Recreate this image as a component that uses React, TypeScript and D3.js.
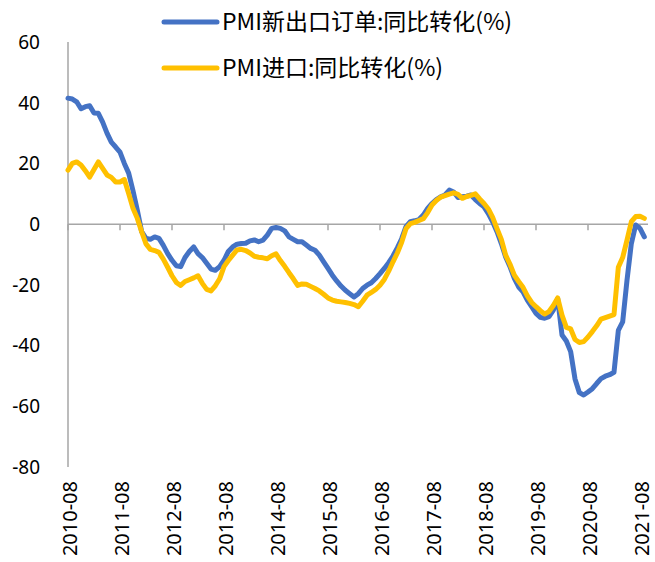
import React from "react";
import * as d3 from "d3";

const startYear = 2010;
const startMonth = 8;

const exportOrders: number[] = [
  41.5, 41.2, 40.3, 38, 38.7, 39, 36.6, 36.5, 33.6, 30, 27, 25.4, 23.7, 20, 16.8, 11, 4.6, -2.5,
  -4.7, -5, -4.2, -4.7, -7, -9.7, -11.9, -13.7, -14, -11, -9, -7.5, -9.7, -11, -12.9, -14.8, -15.2, -14,
  -11.9, -9, -7.5, -6.6, -6.4, -6.3, -5.5, -5.2, -5.8, -5.3, -3.6, -1.4, -1.1, -1.4, -2.2, -4.2, -5, -5.8,
  -5.8, -6.9, -8, -8.6, -10.2, -12.4, -14.6, -16.8, -18.7, -20.4, -21.8, -22.9, -24, -22.9, -21.2, -20.1, -19.3, -17.9,
  -16.3, -14.6, -12.7, -10.5, -7.8, -4.8, -0.8, 0.8, 1.1, 1.5, 3, 5.2, 6.8, 8.1, 9, 9.6, 11.2, 10.6,
  8.8, 9, 9.2, 9.6, 8.1, 6.8, 5.7, 3.5, 0.8, -2.5, -6.4, -10.8, -14, -17.9, -20.7, -22.3, -25, -27.2,
  -29.4, -30.7, -31, -30.5, -28.3, -24.5, -36.5, -38.5, -42, -51, -55.5, -56.3, -55.3, -54.2, -52.5, -50.9, -50.1, -49.6,
  -48.8, -35, -32.2, -18.5, -6.4, -0.3, -1.4, -4.2,
];

const imports: number[] = [
  17.8, 20, 20.5, 19.5, 17.6, 15.5, 18, 20.5, 18.4, 16.2, 15.4, 13.9, 13.9, 14.7, 10.1, 5.2, 1.9, -2.5,
  -6.5, -8.3, -8.7, -9.3, -11.5, -14.2, -17, -19.2, -20.2, -18.9, -18.3, -17.7, -17, -19.5, -21.5, -22, -20.3, -18,
  -14, -12, -10.2, -8.5, -8.3, -8.7, -9.5, -10.6, -10.9, -11.1, -11.4, -10.4, -9.8, -12, -13.9, -16, -18, -20.2,
  -19.7, -19.8, -20.5, -21.2, -22, -23.1, -24.3, -25, -25.4, -25.6, -25.8, -26.1, -26.5, -27.2, -25.4, -23.4, -22.5, -21.5,
  -20.1, -18.2, -15.5, -12.4, -9.5, -6, -1.5, 0.2, 0.6, 1.2, 1.8, 3.8, 6.3, 7.8, 8.9, 9.4, 9.9, 10.3,
  9.8, 8.5, 9.1, 9.5, 10, 8.3, 6.8, 5, 2.2, -1.5, -5, -10.2, -13.2, -16.8, -18.9, -20.8, -23.6, -25.8,
  -27.2, -28.5, -29.6, -28.8, -26.8, -24.3, -30, -34, -34.5, -38, -39, -38.7, -37.2, -35.4, -33.5, -31.3, -30.8, -30.3,
  -29.8, -14.2, -11, -5.3, 0.8, 2.5, 2.6, 1.9,
];

const seriesNames: string[] = ["PMI新出口订单:同比转化(%)", "PMI进口:同比转化(%)"];
const seriesColors: string[] = ["#4472C4", "#FFC000"];
const yTicks: number[] = [60, 40, 20, 0, -20, -40, -60, -80];

const monthLabel = (i: number) => {
  const m = startMonth - 1 + i;
  const y = startYear + Math.floor(m / 12);
  const mm = (m % 12) + 1;
  return `${y}-${String(mm).padStart(2, "0")}`;
};
const xTickIdx: number[] = d3.range(0, 133, 12);

export default function App() {
  const W = 655;
  const H = 562;
  const x = d3.scaleLinear().domain([0, 132]).range([68, 640]);
  const y = d3.scaleLinear().domain([-80, 60]).range([467, 42]);
  const line = d3
    .line<number>()
    .x((_, i) => x(i))
    .y((d) => y(d))
    .curve(d3.curveLinear);
  const axisColor = "#A6A6A6";
  const tickFont = "'Noto Sans', 'Liberation Sans', sans-serif";
  const legendFont = "'Noto Sans CJK SC', 'Noto Sans', sans-serif";
  const series = [exportOrders, imports];

  return (
    <svg
      width={W}
      height={H}
      style={{ position: "absolute", left: 0, top: 0, background: "#fff" }}
    >
      {/* y axis */}
      <line x1={x(0)} x2={x(0)} y1={y(60)} y2={y(-80)} stroke={axisColor} strokeWidth={1.5} />
      {yTicks.map((t) => (
        <text
          key={t}
          x={40}
          y={y(t)}
          dy="0.36em"
          textAnchor="end"
          fontFamily={tickFont}
          fontSize={19}
          fill="#000"
        >
          {t}
        </text>
      ))}
      {/* x axis at 0 */}
      <line x1={x(0)} x2={648} y1={y(0)} y2={y(0)} stroke={axisColor} strokeWidth={1.5} />
      {xTickIdx.map((i) => (
        <line
          key={i}
          x1={x(i)}
          x2={x(i)}
          y1={y(0)}
          y2={y(0) + 6}
          stroke={axisColor}
          strokeWidth={1.5}
        />
      ))}
      {xTickIdx.map((i) => (
        <text
          key={"l" + i}
          transform={`translate(${x(i) + 3},481) rotate(-90)`}
          dy="0.32em"
          textAnchor="end"
          fontFamily={tickFont}
          fontSize={20}
          fill="#000"
        >
          {monthLabel(i)}
        </text>
      ))}
      {/* lines */}
      {series.map((s, k) => (
        <path
          key={k}
          d={line(s) || ""}
          fill="none"
          stroke={seriesColors[k]}
          strokeWidth={5}
          strokeLinejoin="round"
          strokeLinecap="round"
        />
      ))}
      {/* legend */}
      {seriesNames.map((n, k) => {
        const ly = 22 + k * 46;
        return (
          <g key={n}>
            <line
              x1={164}
              x2={217}
              y1={ly}
              y2={ly}
              stroke={seriesColors[k]}
              strokeWidth={5}
              strokeLinecap="round"
            />
            <text
              x={222}
              y={ly}
              dy="0.36em"
              fontFamily={legendFont}
              fontSize={23}
              fill="#000"
            >
              {n}
            </text>
          </g>
        );
      })}
    </svg>
  );
}
